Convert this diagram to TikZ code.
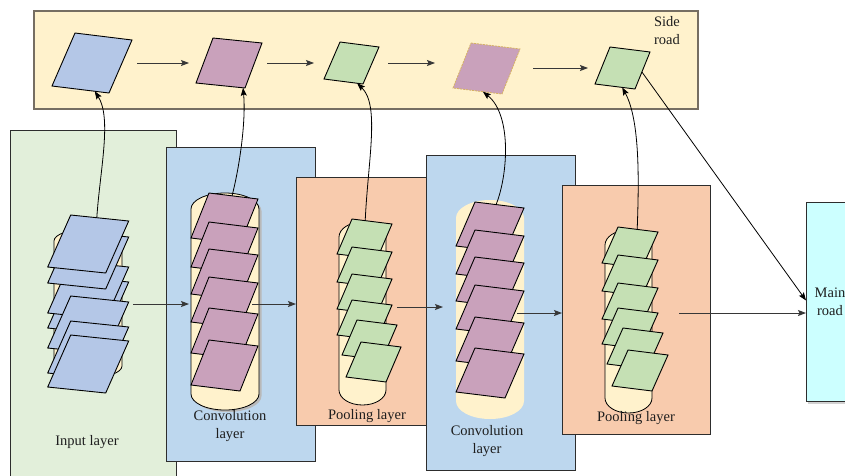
\documentclass[tikz,border=0pt]{standalone}
\usepackage{fontspec}
\setmainfont{Liberation Serif}
\usetikzlibrary{arrows.meta,calc}

\definecolor{sidefill}{HTML}{FFF2CC}
\definecolor{sideedge}{RGB}{118,110,98}
\definecolor{inputfill}{HTML}{E2EFDA}
\definecolor{convfill}{HTML}{BDD7EE}
\definecolor{poolfill}{HTML}{F8CBAD}
\definecolor{mainfill}{HTML}{CCFFFF}
\definecolor{capfill}{HTML}{FFF2CC}
\definecolor{bluemap}{HTML}{B4C7E7}
\definecolor{mauvemap}{RGB}{201,161,187}
\definecolor{greenmap}{HTML}{C5E0B4}
\definecolor{dashgold}{RGB}{214,178,96}
\definecolor{inkc}{RGB}{30,30,30}
\definecolor{edgec}{RGB}{45,45,45}
\definecolor{flowc}{RGB}{55,55,55}

% capsule (cylinder seen from the side): style, x1, y1, x2, y2, cap height
\newcommand\capsule[6]{%
  \pgfmathsetmacro\capMid{(#2+#4)/2}%
  \pgfmathsetmacro\capKx{0.552*(#4-#2)/2}%
  \pgfmathsetmacro\capKy{0.552*#6}%
  \path[#1] (#2,{#3+#6})
    .. controls (#2,{#3+#6-\capKy}) and ({\capMid-\capKx},#3) .. (\capMid,#3)
    .. controls ({\capMid+\capKx},#3) and (#4,{#3+#6-\capKy}) .. (#4,{#3+#6})
    -- (#4,{#5-#6})
    .. controls (#4,{#5-#6+\capKy}) and ({\capMid+\capKx},#5) .. (\capMid,#5)
    .. controls ({\capMid-\capKx},#5) and (#2,{#5-#6+\capKy}) .. (#2,{#5-#6})
    -- cycle;}

% feature map (slanted sheet): style, name, x, y, width, drop, slant, height
\newcommand\fmap[8]{%
  \path[#1] (#3,#4) coordinate (#2-tl) -- ++(#5,#6) coordinate (#2-tr)
    -- ++(-#7,#8) coordinate (#2-br) -- ++(-#5,-#6) coordinate (#2-bl) -- cycle;}

\tikzset{
  panel/.style={draw=edgec, line width=0.9pt, inner sep=0pt, anchor=north west},
  lbl/.style={font=\fontsize{14.5}{18}\selectfont, text=inkc, inner sep=0pt, align=center},
  sheetb/.style={draw=black, line width=0.9pt, fill=bluemap},
  sheetm/.style={draw=black, line width=0.9pt, fill=mauvemap},
  sheetg/.style={draw=black, line width=0.9pt, fill=greenmap},
  capb/.style={draw=black, line width=0.8pt, fill=capfill},
  flow/.style={draw=flowc, line width=0.9pt, -{Stealth[length=8pt,width=6pt,inset=1.5pt]}},
  conn/.style={draw=black, line width=0.8pt, -{Stealth[length=8pt,width=6pt,inset=1.5pt]}},
}

\begin{document}
\begin{tikzpicture}[x=1pt, y=-1pt]
\useasboundingbox (0,0) rectangle (845,475);

% ---------- side road ----------
\node[panel, draw=sideedge, line width=1.5pt, fill=sidefill,
      minimum width=664pt, minimum height=98pt] (side) at (33,10) {};
\node[lbl] (sidetxt) at (667,30.5) {Side\\road};

% ---------- layer panels ----------
\node[panel, fill=inputfill, minimum width=166pt, minimum height=360pt] (inp) at (10,130) {};
\node[panel, fill=convfill, minimum width=149pt, minimum height=314pt] (conva) at (166,147) {};
\node[panel, fill=poolfill, minimum width=132pt, minimum height=248pt] (poola) at (296,177) {};
\node[panel, fill=convfill, minimum width=149pt, minimum height=315pt] (convb) at (426,155) {};
\node[panel, fill=poolfill, minimum width=148pt, minimum height=249pt] (poolb) at (562,185) {};
\fill[gray!35] (808,204) rectangle (866,404);
\node[panel, fill=mainfill, minimum width=60pt, minimum height=199pt] (main) at (806,202) {};
\node[lbl] (maintxt) at (830,302) {Main\\road};

% ---------- input layer ----------
\capsule{capb}{54}{229}{122}{378}{12}
\fmap{sheetb}{inD}{70.7}{276}{58}{6}{23}{52}
\fmap{sheetb}{inC}{70.7}{261}{58}{6}{23}{52}
\fmap{sheetb}{inB}{70.7}{231}{58}{6}{23}{52}
\fmap{sheetb}{inA}{70.7}{215}{58}{6}{23}{52}
\fmap{sheetb}{inE}{70.7}{296}{58}{6}{23}{52}
\fmap{sheetb}{inF}{70.7}{321}{58}{6}{23}{52}
\fmap{sheetb}{inG}{70.7}{335}{58}{6}{23}{52}
\node[lbl] (inptxt) at (87,442) {Input layer};

% ---------- first convolution layer ----------
\capsule{fill=gray!55}{193.5}{195}{261.5}{412}{16}
\capsule{capb}{191}{193}{259}{410}{16}
\foreach \yy [count=\k] in {193,222,249,277,308,340}
  {\fmap{sheetm}{ca\k}{209}{\yy}{49}{6}{18}{45}}
\node[lbl] (convatxt) at (230,426) {Convolution\\layer};

% ---------- first pooling layer ----------
\capsule{capb}{339}{222}{386}{405}{15}
\foreach \xx/\yy [count=\k] in {352/219,352/247,352/274,352/300,357/320,361/342}
  {\fmap{sheetg}{pa\k}{\xx}{\yy}{40}{5}{15}{35}}
\node[lbl] (poolatxt) at (367,416) {Pooling layer};

% ---------- second convolution layer ----------
\capsule{fill=capfill}{456}{200}{524}{419}{18}
\foreach \yy [count=\k] in {202,230,257,285,317,348}
  {\fmap{sheetm}{cb\k}{475}{\yy}{49}{6}{19}{44}}
\node[lbl] (convbtxt) at (487,441) {Convolution\\layer};

% ---------- second pooling layer ----------
\capsule{capb}{605}{230}{652}{413}{15}
\foreach \xx/\yy [count=\k] in {618/227,618/255,618/283,618/308,623/328,628/350}
  {\fmap{sheetg}{pb\k}{\xx}{\yy}{40}{5}{16}{36}}
\node[lbl] (poolbtxt) at (636,418) {Pooling layer};

% ---------- side road maps ----------
\fmap{sheetb}{sd1}{75}{33}{57}{7}{23}{53}
\fmap{sheetm}{sd2}{213}{38}{49}{5}{17}{45}
\fmap{sheetg}{sd3}{340}{42}{39}{5}{16}{37}
\fmap{fill=mauvemap, draw=dashgold, line width=0.8pt, dash pattern=on 2pt off 1pt}{sd4}{471}{43}{49}{6}{18}{45}
\fmap{sheetg}{sd5}{610}{47}{40}{5}{15}{37}

% side road arrows
\coordinate (sa1s) at (137,63);  \coordinate (sa1e) at (189,63);
\coordinate (sa2s) at (267,63);  \coordinate (sa2e) at (314,63);
\coordinate (sa3s) at (388,63);  \coordinate (sa3e) at (435,63);
\coordinate (sa4s) at (533,68);  \coordinate (sa4e) at (588,68);
\draw[flow] (sa1s) -- (sa1e);
\draw[flow] (sa2s) -- (sa2e);
\draw[flow] (sa3s) -- (sa3e);
\draw[flow] (sa4s) -- (sa4e);

% ---------- main road flow ----------
\coordinate (h1s) at (133,304); \coordinate (h1e) at (189,304);
\coordinate (h2s) at (252,304);
\coordinate (h3s) at (397,307); \coordinate (h3e) at (443,307);
\coordinate (h4s) at (517,313);
\coordinate (h5s) at (679,313);
\draw[flow] (h1s) -- (h1e);
\draw[flow] (h2s) -- (h2s -| poola.west);
\draw[flow] (h3s) -- (h3e);
\draw[flow] (h4s) -- (h4s -| poolb.west);
\draw[flow] (h5s) -- (h5s -| main.west);

% ---------- branches up to the side road ----------
\draw[conn] ($(inA-tl)!0.45!(inA-tr)$) .. controls (100,170) and (112,118) .. ($(sd1-bl)!0.75!(sd1-br)$);
\draw[conn] ($(ca1-tl)!0.47!(ca1-tr)$) .. controls (240,165) and (246,120) .. ($(sd2-bl)!0.96!(sd2-br)$);
\draw[conn] ($(pa1-tl)!0.33!(pa1-tr)$) .. controls (368,160) and (380,105) .. ($(sd3-bl)!0.85!(sd3-br)$);
\draw[conn] ($(cb1-tl)!0.43!(cb1-tr)$) .. controls (508,175) and (512,115) .. ($(sd4-bl)!0.61!(sd4-br)$);
\draw[conn] ($(pb1-tl)!0.48!(pb1-tr)$) .. controls (639,180) and (640,120) .. ($(sd5-bl)!0.68!(sd5-br)$);
\draw[conn] ($(sd5-tr)!0.54!(sd5-br)$) -- ([yshift=1.5pt]main.west);
\end{tikzpicture}
\end{document}
